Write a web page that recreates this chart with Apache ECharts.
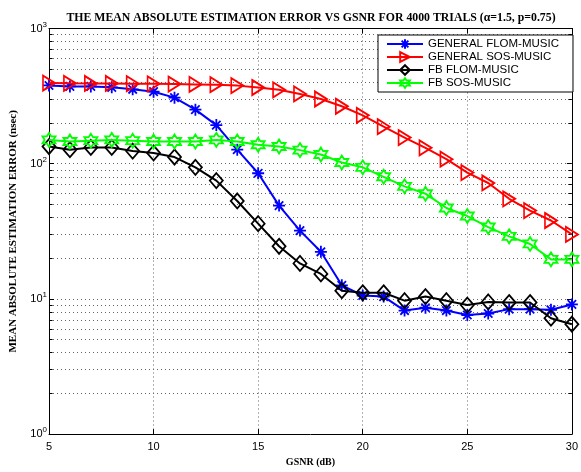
<!DOCTYPE html>
<html><head><meta charset="utf-8">
<script src="https://cdn.jsdelivr.net/npm/echarts@6/dist/echarts.min.js"></script>
<style>html,body{margin:0;padding:0;background:#fff}#c{width:581px;height:472px}</style>
</head><body><div id="c"></div>
<script>
const gsnr = [5,6,7,8,9,10,11,12,13,14,15,16,17,18,19,20,21,22,23,24,25,26,27,28,29,30];
const generalFlom = [379,373,373,367,355,341,308,251,193,127,85,49,32,22.3,12.6,10.6,10.4,8.2,8.6,8.2,7.6,7.8,8.4,8.4,8.3,9.1];
const generalSos = [395,393,392,392,391,390,388,386,384,378,366,352,328,301,266,228,188,156,131,108,86,72,55,45,38,30];
const fbFlom = [134,127,132,132,124,120,112,94,75,53,36,24.5,18.3,15.3,11.5,11.1,11.1,9.7,10.4,9.7,9.0,9.5,9.4,9.4,7.2,6.5];
const fbSos = [150,146,148,150,148,146,146,146,150,146,138,134,126,117,102,94,80,68,60,47,41,34,29,25.5,19.6,19.6];
const seriesNames = ['GENERAL FLOM-MUSIC','GENERAL SOS-MUSIC','FB FLOM-MUSIC','FB SOS-MUSIC'];
const xTicks = [5,10,15,20,25,30];
const minorY = [2,3,4,5,6,7,8,9,20,30,40,50,60,70,80,90,200,300,400,500,600,700,800,900];

const pair = (ys) => gsnr.map((x,i)=>[x, ys[i]]);
const SANS = 'Liberation Sans';
const SERIF = 'Liberation Serif';
const gridDot = {color:'#666', type:[1,3], width:1};

const asterisk = 'path://M0,-1L0,1M-1,0L1,0M-0.7,-0.7L0.7,0.7M-0.7,0.7L0.7,-0.7';
const triRight = 'path://M-1,-1L1,0L-1,1Z';
const diamond = 'path://M0,-1L1,0L0,1L-1,0Z';
const hexagram = 'path://M0,-1L0.289,-0.5L0.866,-0.5L0.577,0L0.866,0.5L0.289,0.5L0,1L-0.289,0.5L-0.866,0.5L-0.577,0L-0.866,-0.5L-0.289,-0.5Z';

function mk(name, data, color, symbol, size, z){
  return {
    name, type:'line', data: pair(data), symbol, symbolSize:size, z,
    lineStyle:{color, width:2},
    itemStyle:{color:'rgba(0,0,0,0)', borderColor:color, borderWidth:1.8},
    emphasis:{disabled:true}, animation:false
  };
}

const s0 = mk(seriesNames[0], generalFlom, '#0000ff', asterisk, [12,12], 2);
s0.markLine = {
  silent:true, symbol:'none', label:{show:false}, animation:false, z:1,
  lineStyle:gridDot,
  data: minorY.map(v=>({yAxis:v}))
};
const s1 = mk(seriesNames[1], generalSos, '#ff0000', triRight, [12,15], 3);
s1.markLine = {
  silent:true, symbol:'none', label:{show:false}, animation:false, z:1,
  lineStyle:{color:'#000', type:'solid', width:1},
  data: minorY.map(v=>[{coord:[5, v]},{coord:[5.17, v]}])
    .concat(minorY.map(v=>[{coord:[29.83, v]},{coord:[30, v]}]))
};

const chart = echarts.init(document.getElementById('c'), null, {renderer:'canvas'});
chart.setOption({
  animation:false,
  backgroundColor:'#fff',
  title:{
    text:'THE MEAN ABSOLUTE ESTIMATION ERROR VS GSNR FOR 4000 TRIALS (α=1.5, p=0.75)',
    left:306, top:7, textAlign:'center',
    textStyle:{fontFamily:SERIF, fontWeight:'bold', fontSize:11.8, color:'#000'}
  },
  grid:{left:48, right:7.5, top:28.5, bottom:29, containLabel:false},
  legend:{
    z:50, zlevel:0,
    orient:'vertical', left:378, top:35,
    padding:[3,14,3,8], itemGap:1, itemWidth:36, itemHeight:12,
    borderColor:'#000', borderWidth:1, backgroundColor:'#fff',
    textStyle:{fontFamily:SANS, fontSize:11.5, color:'#000'},
    data: seriesNames
  },
  xAxis:[{
    type:'value', min:5, max:30, interval:5,
    name:'GSNR (dB)', nameLocation:'middle', nameGap:15,
    nameTextStyle:{fontFamily:SERIF, fontWeight:'bold', fontSize:10, color:'#000'},
    axisLine:{show:true, onZero:false, lineStyle:{color:'#000', width:1}},
    axisTick:{show:true, inside:true, length:5, lineStyle:{color:'#000'}},
    axisLabel:{fontFamily:SANS, fontSize:11, color:'#000', margin:7,
      formatter:(v)=> xTicks.includes(v) ? String(v) : ''},
    splitLine:{show:true, lineStyle:gridDot}
  },{
    type:'value', min:5, max:30, interval:5, position:'top',
    axisLine:{show:true, onZero:false, lineStyle:{color:'#000', width:1}},
    axisTick:{show:true, inside:true, length:5, lineStyle:{color:'#000'}},
    axisLabel:{show:false}, splitLine:{show:false}
  }],
  yAxis:[{
    type:'log', logBase:10, min:1, max:1000,
    name:'MEAN ABSOLUTE ESTIMATION ERROR (nsec)', nameLocation:'middle', nameGap:30,
    nameTextStyle:{fontFamily:SERIF, fontWeight:'bold', fontSize:11, color:'#000'},
    axisLine:{show:true, onZero:false, lineStyle:{color:'#000', width:1}},
    axisTick:{show:true, inside:true, length:5, lineStyle:{color:'#000'}},
    axisLabel:{
      color:'#000', margin:2,
      formatter:(v)=> '{b|10}{s|' + Math.round(Math.log10(v)) + '}',
      rich:{
        b:{fontFamily:SANS, fontSize:11, color:'#000'},
        s:{fontFamily:SANS, fontSize:8, color:'#000', verticalAlign:'bottom', padding:[0,0,8,0]}
      }
    },
    splitLine:{show:true, lineStyle:gridDot}
  },{
    type:'log', logBase:10, min:1, max:1000, position:'right',
    axisLine:{show:true, onZero:false, lineStyle:{color:'#000', width:1}},
    axisTick:{show:true, inside:true, length:5, lineStyle:{color:'#000'}},
    axisLabel:{show:false}, splitLine:{show:false}
  }],
  series:[
    s0,
    s1,
    mk(seriesNames[2], fbFlom, '#000000', diamond, [13,15], 4),
    mk(seriesNames[3], fbSos, '#00ff00', hexagram, [13,14], 5)
  ]
});
</script></body></html>
